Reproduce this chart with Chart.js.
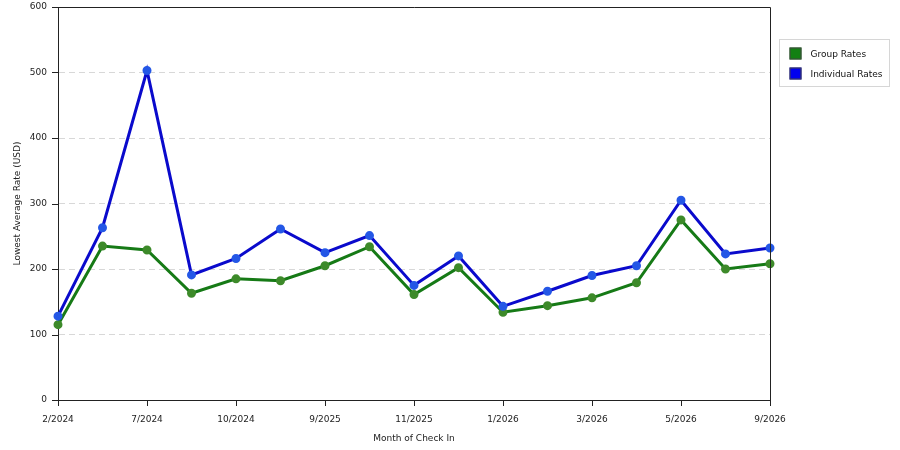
<!DOCTYPE html>
<html>
<head>
<meta charset="utf-8">
<script src="https://cdn.jsdelivr.net/npm/chart.js@4/dist/chart.umd.min.js"></script>
<style>
  html, body { margin: 0; padding: 0; background: #fff; }
  #wrap { width: 900px; height: 450px; position: relative; }
</style>
</head>
<body>
<div id="wrap"><canvas id="rates"></canvas></div>
<script>
const months = [
  "2/2024", "5/2024", "7/2024", "8/2024", "10/2024", "12/2024",
  "9/2025", "10/2025", "11/2025", "12/2025", "1/2026", "2/2026",
  "3/2026", "4/2026", "5/2026", "6/2026", "9/2026"
];
const groupRates = [115, 235, 229, 163, 185, 182, 205, 234, 161, 202, 134, 144, 156, 179, 275, 200, 208];
const individualRates = [128, 263, 503, 191, 216, 261, 225, 251, 175, 220, 143, 166, 190, 205, 305, 223, 232];
const yTicks = [0, 100, 200, 300, 400, 500, 600];

const FONT = "'DejaVu Sans', Verdana, sans-serif";

const series = [
  { label: "Group Rates", data: groupRates, line: "#167a16", point: "#3d8a2a", key: "#138013" },
  { label: "Individual Rates", data: individualRates, line: "#0a0acc", point: "#2457e6", key: "#0000ee" }
];

// plot frame, tick marks and legend box, drawn by hand
const framePlugin = {
  id: "frame",
  afterDraw(chart) {
    const ctx = chart.ctx;
    const a = chart.chartArea;
    const x = chart.scales.x;
    const y = chart.scales.y;
    ctx.save();
    ctx.strokeStyle = "#222";
    ctx.lineWidth = 1;
    ctx.beginPath();
    ctx.moveTo(a.left, a.top + 0.5);
    ctx.lineTo(a.right + 0.5, a.top + 0.5);
    ctx.lineTo(a.right + 0.5, a.bottom);
    yTicks.forEach((v) => {
      const py = Math.round(y.getPixelForValue(v)) + 0.5;
      ctx.moveTo(a.left - 6, py);
      ctx.lineTo(a.left, py);
    });
    months.forEach((m, i) => {
      if (i % 2) return;
      const px = Math.round(x.getPixelForValue(i)) + 0.5;
      ctx.moveTo(px, a.bottom);
      ctx.lineTo(px, a.bottom + 6);
    });
    ctx.stroke();

    const bx = 779.5, by = 39.5, bw = 110, bh = 47;
    ctx.strokeStyle = "#d6d6d6";
    ctx.strokeRect(bx, by, bw, bh);
    ctx.font = "9px " + FONT;
    ctx.textBaseline = "middle";
    series.forEach((s, i) => {
      const yy = by + 14 + i * 20;
      ctx.fillStyle = s.key;
      ctx.fillRect(bx + 10, yy - 6, 12, 12);
      ctx.strokeStyle = "#444";
      ctx.strokeRect(bx + 10.5, yy - 5.5, 11, 11);
      ctx.fillStyle = "#111";
      ctx.fillText(s.label, bx + 31, yy + 1);
    });
    ctx.restore();
  }
};

new Chart(document.getElementById("rates"), {
  type: "line",
  data: {
    labels: months,
    datasets: series.map((s) => ({
      label: s.label,
      data: s.data,
      borderColor: s.line,
      backgroundColor: s.point,
      pointBackgroundColor: s.point,
      pointBorderColor: s.point,
      borderWidth: 3,
      pointRadius: 3,
      tension: 0,
      fill: false
    })).reverse()
  },
  options: {
    responsive: true,
    maintainAspectRatio: false,
    animation: false,
    layout: { padding: { left: 12, top: 0, right: 130, bottom: 0 } },
    plugins: {
      legend: { display: false },
      tooltip: { enabled: false }
    },
    scales: {
      x: {
        offset: false,
        grid: { display: false },
        border: { display: true, color: "#222", width: 1 },
        ticks: {
          autoSkip: false,
          maxRotation: 0,
          color: "#222",
          font: { family: FONT, size: 9 },
          padding: 6,
          callback: function (v, i) { return i % 2 === 0 ? months[i] : ""; }
        },
        title: {
          display: true,
          text: "Month of Check In",
          color: "#222",
          font: { family: FONT, size: 9 },
          padding: { top: 4, bottom: 6 }
        },
        afterFit(scale) { scale.height = 50; }
      },
      y: {
        min: 0,
        max: 600,
        afterBuildTicks(scale) { scale.ticks = yTicks.map((v) => ({ value: v })); },
        grid: {
          color: (c) => (c.tick && (c.tick.value === 0 || c.tick.value === 600)) ? "rgba(0,0,0,0)" : "#d8d8d8",
          lineWidth: 1,
          drawTicks: true,
          tickLength: 11,
          tickColor: "rgba(0,0,0,0)"
        },
        border: { display: true, color: "#222", width: 1, dash: [6, 4] },
        ticks: {
          color: "#222",
          font: { family: FONT, size: 9, lineHeight: 0.6 },
          padding: 0
        },
        title: {
          display: true,
          text: "Lowest Average Rate (USD)",
          color: "#222",
          font: { family: FONT, size: 9 },
          padding: { top: 0, bottom: 0 }
        },
        afterFit(scale) { scale.width = 46; }
      }
    }
  },
  plugins: [framePlugin]
});
</script>
</body>
</html>
